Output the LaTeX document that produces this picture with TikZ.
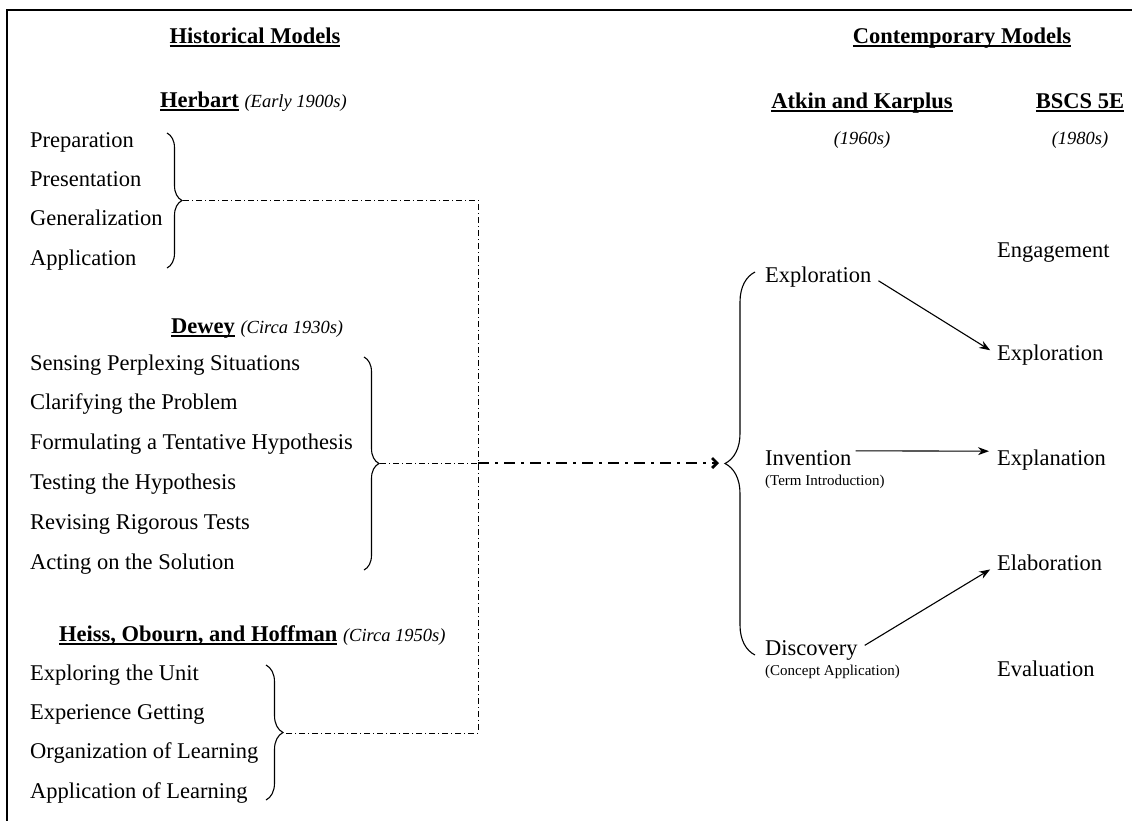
\documentclass[tikz,border=0pt]{standalone}
\usepackage{fontspec}
\setmainfont{Liberation Serif}
\usetikzlibrary{arrows.meta, positioning, decorations.pathreplacing}

\newcommand{\era}[1]{{\normalfont\itshape\fontsize{18.5}{22}\selectfont #1}}
\newcommand{\hdline}[1]{\setbox0\hbox{#1}\rlap{\vrule height -2.2pt depth 3.8pt width \wd0}\box0\relax}

\begin{document}
\begin{tikzpicture}[
    x=1pt, y=-1pt,
    stage/.style={inner sep=0pt, font=\fontsize{22.5}{27}\selectfont, text height=16pt, text depth=5pt},
    heading/.style={inner sep=0pt, font=\fontsize{22.5}{27}\selectfont\bfseries, anchor=base},
    subnote/.style={inner sep=0pt, font=\fontsize{15}{18}\selectfont, text height=11pt, text depth=3.5pt},
    curly/.style={decorate, decoration={brace, amplitude=#1}, line width=1.1pt},
    dashline/.style={line width=0.9pt, dash pattern=on 6pt off 3pt on 1pt off 3pt},
    bigarrow/.style={line width=2.8pt, dash pattern=on 11pt off 6pt on 3pt off 6pt, -{Straight Barb[length=5pt, width=10pt]}},
    arrow/.style={line width=1.1pt, -{Stealth[length=11pt, width=8pt]}}
]
    \useasboundingbox (0,0) rectangle (1132,820);
    \draw[line width=2pt] (7,840) -- (7,10) -- (1150,10);

    % headings
    \node[heading] (hist) at (255,43) {\hdline{Historical Models}};
    \node[heading] (cont) at (962,43) {\hdline{Contemporary Models}};

    % Herbart
    \node[heading, anchor=base west] (herbart) at (160,107) {\hdline{Herbart} \era{(Early 1900s)}};
    \node[stage, anchor=base west] (prep) at (30,147) {Preparation};
    \node[stage, below right=18pt and 0pt of prep.south west] (pres) {Presentation};
    \node[stage, below right=18pt and 0pt of pres.south west] (gen) {Generalization};
    \node[stage, below right=18pt and 0pt of gen.south west] (appl) {Application};
    \draw[curly=15pt] (167,133) -- (167,268);
    \coordinate (hbtip) at (183,200);

    % Dewey
    \node[heading, anchor=base west] (dewey) at (171,333) {\hdline{Dewey} \era{(Circa 1930s)}};
    \node[stage, anchor=base west] (sense) at (30,370) {Sensing Perplexing Situations};
    \node[stage, below right=18.4pt and 0pt of sense.south west] (clar) {Clarifying the Problem};
    \node[stage, below right=18.4pt and 0pt of clar.south west] (form) {Formulating a Tentative Hypothesis};
    \node[stage, below right=18.4pt and 0pt of form.south west] (test) {Testing the Hypothesis};
    \node[stage, below right=18.4pt and 0pt of test.south west] (revise) {Revising Rigorous Tests};
    \node[stage, below right=18.4pt and 0pt of revise.south west] (act) {Acting on the Solution};
    \draw[curly=15pt] (364,357) -- (364,570);
    \coordinate (dwtip) at (380,463);

    % Heiss, Obourn, and Hoffman
    \node[heading, anchor=base west] (heiss) at (59,641) {\hdline{Heiss, Obourn, and Hoffman} \era{(Circa 1950s)}};
    \node[stage, anchor=base west] (unit) at (30,680) {Exploring the Unit};
    \node[stage, below right=18pt and 0pt of unit.south west] (exper) {Experience Getting};
    \node[stage, below right=18pt and 0pt of exper.south west] (organ) {Organization of Learning};
    \node[stage, below right=18pt and 0pt of organ.south west] (applearn) {Application of Learning};
    \draw[curly=17pt] (266,665) -- (266,800);
    \coordinate (hotip) at (284,733);

    % Atkin and Karplus
    \node[heading] (atkin) at (862,108) {\hdline{Atkin and Karplus}};
    \node[heading, font=\fontsize{18.5}{22}\selectfont\itshape] (atkinera) at (862,144) {(1960s)};
    \node[stage, anchor=base west] (akexp) at (765,282) {Exploration};
    \node[stage, anchor=base west] (inv) at (765,465) {Invention};
    \node[subnote, below right=4pt and 0pt of inv.south west] (invnote) {(Term Introduction)};
    \node[stage, anchor=base west] (disc) at (765,655) {Discovery};
    \node[subnote, below right=4pt and 0pt of disc.south west] (discnote) {(Concept Application)};
    \draw[curly=30pt] (755,655) -- (755,272);
    \coordinate (akin) at (719,463);

    % BSCS 5E
    \node[heading] (bscs) at (1080,108) {\hdline{BSCS 5E}};
    \node[heading, font=\fontsize{18.5}{22}\selectfont\itshape] (bscsera) at (1080,144) {(1980s)};
    \node[stage, anchor=base west] (engage) at (997,257) {Engagement};
    \node[stage, anchor=base west] (bexp) at (997,360) {Exploration};
    \node[stage, below right=84pt and 0pt of bexp.south west] (bexpl) {Explanation};
    \node[stage, below right=84pt and 0pt of bexpl.south west] (belab) {Elaboration};
    \node[stage, below right=84pt and 0pt of belab.south west] (beval) {Evaluation};

    % connectors
    \coordinate (jtop) at (478,200);
    \coordinate (jmid) at (478,463);
    \coordinate (jbot) at (478,733);
    \draw[dashline] (hbtip) -- (jtop) -- (jbot) -- (hotip);
    \draw[dashline] (dwtip) -- (jmid);
    \draw[bigarrow] (jmid) -- (akin);

    \draw[arrow, shorten <=8pt, shorten >=8pt] (akexp.east) -- (bexp.west);
    \draw[arrow, shorten <=4pt, shorten >=8pt] ([yshift=-2pt]inv.north east) -- ([yshift=-2pt]bexpl.north west);
    \draw[arrow, shorten <=8pt, shorten >=8pt] (disc.east) -- (belab.west);
\end{tikzpicture}
\end{document}
